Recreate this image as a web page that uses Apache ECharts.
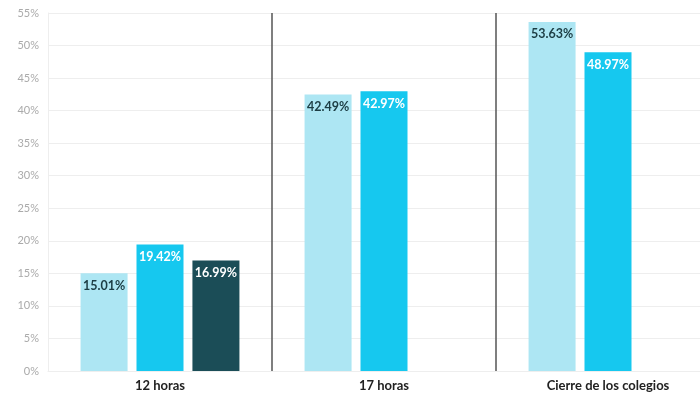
<!DOCTYPE html>
<html><head><meta charset="utf-8">
<script src="https://cdn.jsdelivr.net/npm/echarts@6/dist/echarts.min.js"></script>
<style>html,body{margin:0;padding:0;background:#fff;overflow:hidden;width:700px;height:394px}#c{width:720px;height:394px}</style>
</head><body><div id="c"></div>
<script>
const categories = ['12 horas', '17 horas', 'Cierre de los colegios'];
const series1 = [15.01, 42.49, 53.63];
const series2 = [19.42, 42.97, 48.97];
const series3 = [16.99, null, null];
const yTicks = [0, 5, 10, 15, 20, 25, 30, 35, 40, 45, 50, 55];

const chart = echarts.init(document.getElementById('c'));
const lbl = (color) => ({
  show: true, position: 'insideTop', distance: 6,
  formatter: p => p.value == null ? '' : p.value.toFixed(2) + '%',
  color: color, fontWeight: 'bold', fontSize: 12.5, fontFamily: 'Lato'
});
chart.setOption({
  animation: false,
  grid: { left: 48, right: 0, top: 13, bottom: 23 },
  xAxis: {
    type: 'category', data: categories,
    axisLine: { show: true, lineStyle: { color: '#eeeeee' } },
    axisTick: { show: false },
    axisLabel: { color: '#222', fontWeight: 'bold', fontSize: 13, fontFamily: 'Lato', margin: 8 },
    splitLine: { show: true, showMinLine: false, showMaxLine: false, lineStyle: { color: '#555', width: 1.5 } }
  },
  yAxis: {
    type: 'value', min: yTicks[0], max: yTicks[yTicks.length - 1], interval: 5,
    axisLine: { show: true, lineStyle: { color: '#eeeeee' } },
    axisTick: { show: false },
    axisLabel: { formatter: '{value}%', color: '#aaaaaa', fontSize: 11, fontFamily: 'Lato', margin: 9 },
    splitLine: { lineStyle: { color: '#eeeeee' } }
  },
  series: [
    { type: 'bar', data: series1, barWidth: 47, barGap: '19%', itemStyle: { color: '#ade6f3' }, label: lbl('#1c3d44') },
    { type: 'bar', data: series2, barWidth: 47, barGap: '19%', itemStyle: { color: '#16c8ef' }, label: lbl('#ffffff') },
    { type: 'bar', data: series3, barWidth: 47, barGap: '19%', itemStyle: { color: '#1b4d57' }, label: lbl('#ffffff') }
  ]
});
</script></body></html>
